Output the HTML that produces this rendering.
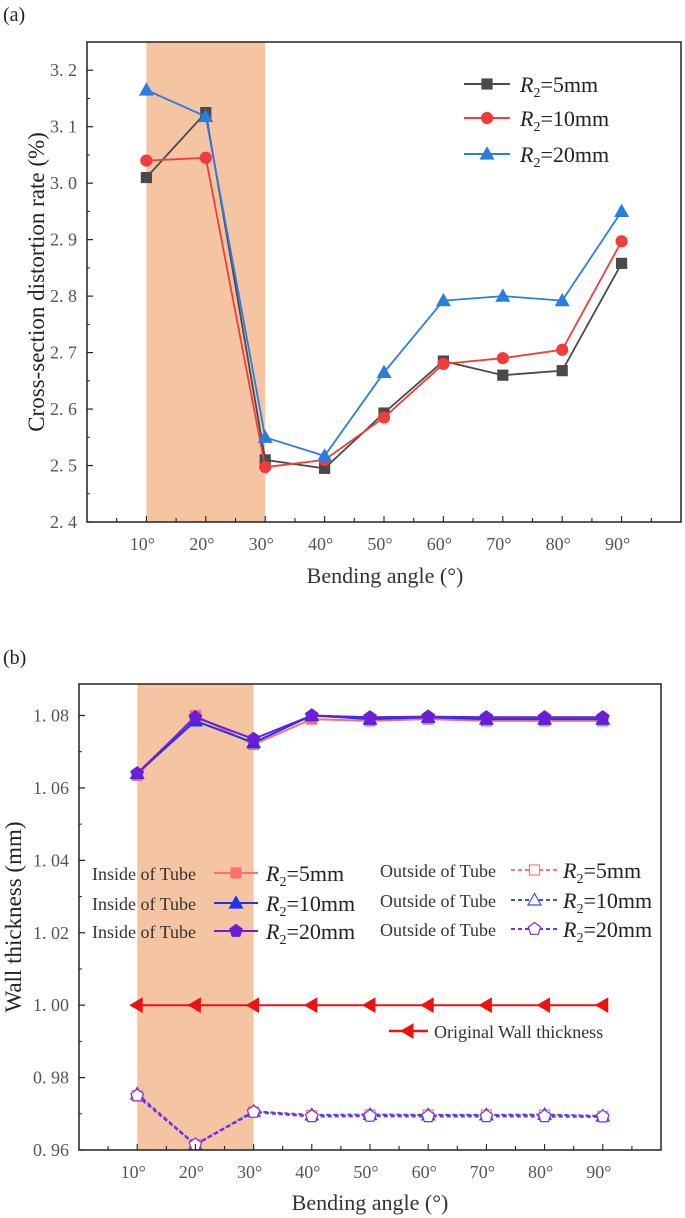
<!DOCTYPE html>
<html><head><meta charset="utf-8"><style>
html,body{margin:0;padding:0;background:#fff;}
svg{display:block;font-family:"Liberation Serif","Noto Serif CJK SC",serif;}
</style></head><body>
<svg id="svg" width="685" height="1218" viewBox="0 0 685 1218"></svg>
<script>
const angles=["10°","20°","30°","40°","50°","60°","70°","80°","90°"];
const xVals=[10,20,30,40,50,60,70,80,90];
// Chart (a)
const aTicks=[2.4,2.5,2.6,2.7,2.8,2.9,3.0,3.1,3.2];
const aTickLabels=["2. 4","2. 5","2. 6","2. 7","2. 8","2. 9","3. 0","3. 1","3. 2"];
const a5=[3.01,3.125,2.51,2.495,2.593,2.685,2.66,2.668,2.858];
const a10=[3.04,3.045,2.497,2.51,2.585,2.68,2.69,2.705,2.897];
const a20=[3.165,3.118,2.55,2.517,2.665,2.792,2.8,2.792,2.95];
// Chart (b)
const bTicks=[0.96,0.98,1.00,1.02,1.04,1.06,1.08];
const bTickLabels=["0. 96","0. 98","1. 00","1. 02","1. 04","1. 06","1. 08"];
const bIn5=[1.0635,1.080,1.072,1.079,1.0785,1.079,1.0785,1.0785,1.0785];
const bIn10=[1.064,1.0785,1.0725,1.080,1.079,1.0795,1.079,1.079,1.079];
const bIn20=[1.064,1.0795,1.0735,1.080,1.0795,1.0797,1.0795,1.0795,1.0795];
const bOut5=[0.975,0.9615,0.9705,0.9695,0.9697,0.9697,0.9697,0.9697,0.9693];
const bOut10=[0.9755,0.9615,0.9707,0.9697,0.9698,0.9697,0.9697,0.9698,0.9694];
const bOut20=[0.975,0.9615,0.9705,0.9693,0.9694,0.9693,0.9693,0.9693,0.9692];
const bOrig=[1,1,1,1,1,1,1,1,1];

const NS="http://www.w3.org/2000/svg";
const svg=document.getElementById('svg');
function el(tag,attrs,parent,text){const e=document.createElementNS(NS,tag);for(const k in attrs)e.setAttribute(k,attrs[k]);if(text!==undefined)e.textContent=text;(parent||svg).appendChild(e);return e;}

function marker(g,type,x,y,color,fill){
  let m;
  if(type==='sq') m=el('rect',{x:x-5,y:y-5,width:10,height:10,fill:fill,stroke:color,'stroke-width':1.2},g);
  else if(type==='ci') m=el('circle',{cx:x,cy:y,r:5.5,fill:fill,stroke:color,'stroke-width':1.2},g);
  else if(type==='tri') m=el('polygon',{points:`${x},${y-6.5} ${x-6.5},${y+5} ${x+6.5},${y+5}`,fill:fill,stroke:color,'stroke-width':1.2},g);
  else if(type==='pent'){let p=[];for(let i=0;i<5;i++){const a=-Math.PI/2+i*2*Math.PI/5;p.push((x+6.5*Math.cos(a)).toFixed(1)+','+(y+6.5*Math.sin(a)).toFixed(1));}m=el('polygon',{points:p.join(' '),fill:fill,stroke:color,'stroke-width':1.2},g);}
  else if(type==='ltri') m=el('polygon',{points:`${x-7},${y} ${x+5},${y-7} ${x+5},${y+7}`,fill:fill,stroke:color,'stroke-width':1},g);
  return m;
}

function chart(cfg){
  const g=el('g',{});
  
  
  const X=v=>cfg.L+(v-0)/100*(cfg.R-cfg.L);
  const Y=v=>cfg.B-(v-cfg.ymin)/(cfg.ymax-cfg.ymin)*(cfg.B-cfg.T);
  const sh=el('rect',{x:X(10),y:cfg.T,width:X(30)-X(10),height:cfg.B-cfg.T,fill:'#f5c5a3'},g);
  
  cfg.series.forEach(s=>{
    const sg=el('g',{},g);
    
    const pts=s.data.map((v,i)=>X(xVals[i]).toFixed(1)+','+Y(v).toFixed(1)).join(' ');
    el('polyline',{points:pts,fill:'none',stroke:s.color,'stroke-width':s.w||1.8,'stroke-dasharray':s.dash||'none'},sg);
    s.data.forEach((v,i)=>{const m=marker(sg,s.m,X(xVals[i]),Y(v),s.color,s.fill);});
  });
  const fr=el('rect',{x:cfg.L,y:cfg.T,width:cfg.R-cfg.L,height:cfg.B-cfg.T,fill:'none',stroke:'#222','stroke-width':1.5},g);
  
  const yt=el('g',{},g);
  cfg.ticks.forEach((t,i)=>{
    el('line',{x1:cfg.L,x2:cfg.L+6,y1:Y(t),y2:Y(t),stroke:'#222','stroke-width':1.2},yt);
    if(i<cfg.ticks.length-1){const ym=Y(t+cfg.step/2);el('line',{x1:cfg.L,x2:cfg.L+3,y1:ym,y2:ym,stroke:'#222','stroke-width':1},yt);}
    el('text',{x:cfg.L-10,y:Y(t)+6,'text-anchor':'end','font-size':18,fill:'#555'},yt,cfg.labels[i]);
  });
  const xt=el('g',{},g);
  for(let v=5;v<100;v+=5){
    const major=v%10===0;
    el('line',{x1:X(v),x2:X(v),y1:cfg.B,y2:cfg.B-(major?6:4),stroke:'#222','stroke-width':1.1},xt);
  }
  angles.forEach((a,i)=>el('text',{x:X(xVals[i])-4,y:cfg.B+28,'text-anchor':'middle','font-size':18,fill:'#555'},xt,a));
  const xl=el('text',{x:cfg.xlX,y:cfg.xlY,'text-anchor':'middle','font-size':22,fill:'#333'},g,'Bending angle (°)');
  
  const yl=el('text',{x:0,y:0,transform:`translate(${cfg.ylX},${(cfg.T+cfg.B)/2}) rotate(-90)`,'text-anchor':'middle','font-size':23,fill:'#222'},g,cfg.ytitle);
  
  const pl=el('text',{x:3,y:cfg.panelY,'font-size':20,fill:'#222'},g,cfg.panel);
  
  return {g,X,Y};
}

function legendEntry(parent,name,x1,x2,y,color,m,fill,dash,tx,label,pre){
  const lg=el('g',{},parent);
  
  el('line',{x1:x1,x2:x2,y1:y,y2:y,stroke:color,'stroke-width':2,'stroke-dasharray':dash||'none'},lg);
  marker(lg,m,(x1+x2)/2,y,color,fill);
  const t=el('text',{x:tx,y:y+8,'font-size':22,fill:'#222'},lg);
  el('tspan',{'font-style':'italic'},t,'R');
  el('tspan',{'font-size':14,dy:5},t,'2');
  el('tspan',{dy:-5},t,label);
  if(pre) el('text',{x:pre.x,y:y+7,'font-size':18,fill:'#333'},lg,pre.t);
}

const ca=chart({name:'chart-a',L:87,R:681,T:42,B:522,ymin:2.4,ymax:3.25,step:0.1,ticks:aTicks,labels:aTickLabels,
  ytitle:'Cross-section distortion rate (%)',ylX:44,xlX:385,xlY:583,panel:'(a)',panelY:21,
  series:[
    {name:'series-r2-5mm',data:a5,color:'#4a4a4a',fill:'#4a4a4a',m:'sq'},
    {name:'series-r2-10mm',data:a10,color:'#f03c3c',fill:'#f03c3c',m:'ci'},
    {name:'series-r2-20mm',data:a20,color:'#2a7de1',fill:'#2a7de1',m:'tri'}]});
const la=el('g',{});
legendEntry(la,'legend-r2-5mm',464,510,84,'#4a4a4a','sq','#4a4a4a',null,520,'=5mm');
legendEntry(la,'legend-r2-10mm',464,510,118,'#f03c3c','ci','#f03c3c',null,520,'=10mm');
legendEntry(la,'legend-r2-20mm',464,510,154,'#2a7de1','tri','#2a7de1',null,520,'=20mm');

const cb=chart({name:'chart-b',L:79,R:661,T:684,B:1150,ymin:0.96,ymax:1.0887,step:0.02,ticks:bTicks,labels:bTickLabels,
  ytitle:'Wall thickness (mm)',ylX:21,xlX:370,xlY:1210,panel:'(b)',panelY:664,
  series:[
    {name:'series-original',data:bOrig,color:'#ee1111',fill:'#ee1111',m:'ltri',w:2},
    {name:'series-outside-5mm',data:bOut5,color:'#f77',fill:'none',m:'sq',dash:'4 3',w:2},
    {name:'series-outside-10mm',data:bOut10,color:'#3355ee',fill:'none',m:'tri',dash:'4 3',w:2},
    {name:'series-outside-20mm',data:bOut20,color:'#7a2ee0',fill:'#fff',m:'pent',dash:'4 3',w:2.5},
    {name:'series-inside-5mm',data:bIn5,color:'#f87070',fill:'#f87070',m:'sq',w:2},
    {name:'series-inside-10mm',data:bIn10,color:'#2233ee',fill:'#2233ee',m:'tri',w:2},
    {name:'series-inside-20mm',data:bIn20,color:'#6a1ed8',fill:'#6a1ed8',m:'pent',w:2}]});
const lb=el('g',{});
legendEntry(lb,'legend-inside-5mm',214,258,873,'#f87070','sq','#f87070',null,266,'=5mm',{x:92,t:'Inside of Tube'});
legendEntry(lb,'legend-inside-10mm',214,258,903,'#2233ee','tri','#2233ee',null,266,'=10mm',{x:92,t:'Inside of Tube'});
legendEntry(lb,'legend-inside-20mm',214,258,931,'#6a1ed8','pent','#6a1ed8',null,266,'=20mm',{x:92,t:'Inside of Tube'});
legendEntry(lb,'legend-outside-5mm',511,558,870,'#f77','sq','#fff','4 3',563,'=5mm',{x:380,t:'Outside of Tube'});
legendEntry(lb,'legend-outside-10mm',511,558,900,'#3355ee','tri','#fff','4 3',563,'=10mm',{x:380,t:'Outside of Tube'});
legendEntry(lb,'legend-outside-20mm',511,558,929,'#7a2ee0','pent','#fff','4 3',563,'=20mm',{x:380,t:'Outside of Tube'});
const lo=el('g',{},lb);
el('line',{x1:389,x2:428,y1:1031,y2:1031,stroke:'#ee1111','stroke-width':2.5},lo);
marker(lo,'ltri',408,1031,'#ee1111','#ee1111');
el('text',{x:434,y:1038,'font-size':18,fill:'#333'},lo,'Original Wall thickness');
</script>
</body></html>
